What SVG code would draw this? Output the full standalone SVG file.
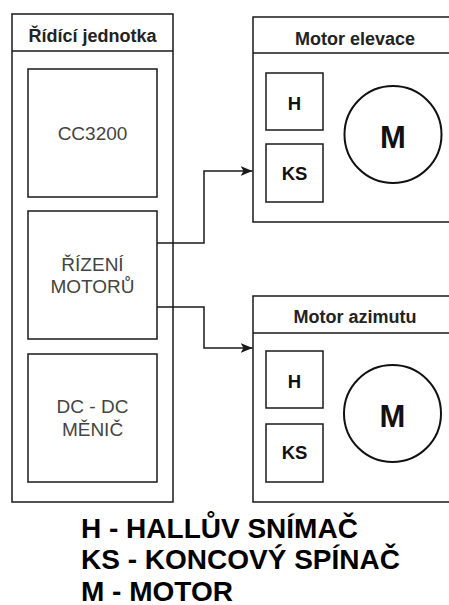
<svg xmlns="http://www.w3.org/2000/svg" width="449" height="605" viewBox="0 0 449 605">
<style>
.box{fill:#fff;stroke:#1a1a1a;stroke-width:1.5}
.circ{fill:#fff;stroke:#111;stroke-width:2}
.ln{fill:none;stroke:#1a1a1a;stroke-width:1.5}
.hdr{font-family:"Liberation Sans",Arial,sans-serif;font-weight:bold;font-size:18px;fill:#222;text-anchor:middle}
.lbl{font-family:"Liberation Sans",Arial,sans-serif;font-size:19px;fill:#444;text-anchor:middle}
.sm{font-family:"Liberation Sans",Arial,sans-serif;font-weight:bold;font-size:18.5px;fill:#111;text-anchor:middle}
.big{font-family:"Liberation Sans",Arial,sans-serif;font-weight:bold;font-size:31px;fill:#111;text-anchor:middle}
.leg{font-family:"Liberation Sans",Arial,sans-serif;font-weight:bold;font-size:28px;fill:#000}
</style>
<defs>
<marker id="arr" markerUnits="userSpaceOnUse" markerWidth="13" markerHeight="10" refX="12" refY="5" orient="auto">
<path d="M0,0 L12,5 L0,10 L3,5 Z" fill="#1a1a1a"/>
</marker>
</defs>
<rect width="449" height="605" fill="#fff"/>
<g id="ridici-jednotka">
<rect class="box" x="12" y="14" width="161" height="488"/>
<line class="ln" x1="12" y1="51" x2="173" y2="51"/>
<text class="hdr" x="92.5" y="42">Řídící jednotka</text>
</g>
<g id="cc3200">
<rect class="box" x="28" y="69" width="129" height="128"/>
<text class="lbl" x="92.5" y="140">CC3200</text>
</g>
<g id="rizeni-motoru">
<rect class="box" x="28" y="211" width="129" height="128"/>
<text class="lbl" x="92.5" y="270.5">ŘÍZENÍ</text>
<text class="lbl" x="92.5" y="293">MOTORŮ</text>
</g>
<g id="dc-dc-menic">
<rect class="box" x="28" y="354" width="129" height="128"/>
<text class="lbl" x="92.5" y="413">DC - DC</text>
<text class="lbl" x="92.5" y="436">MĚNIČ</text>
</g>
<g id="motor-elevace">
<rect class="box" x="253" y="17" width="204" height="205"/>
<line class="ln" x1="253" y1="53" x2="457" y2="53"/>
<text class="hdr" x="355" y="45">Motor elevace</text>
<rect class="box" x="266" y="73" width="57" height="57"/>
<text class="sm" x="294.5" y="110">H</text>
<rect class="box" x="266" y="144" width="57" height="58"/>
<text class="sm" x="294.5" y="180">KS</text>
<circle class="circ" cx="393" cy="134.5" r="48.5"/>
<text class="big" x="393" y="148">M</text>
</g>
<g id="motor-azimutu">
<rect class="box" x="253" y="296" width="204" height="206"/>
<line class="ln" x1="253" y1="333" x2="457" y2="333"/>
<text class="hdr" x="355" y="323">Motor azimutu</text>
<rect class="box" x="266" y="351" width="57" height="57"/>
<text class="sm" x="294.5" y="388">H</text>
<rect class="box" x="266" y="424" width="57" height="58"/>
<text class="sm" x="294.5" y="459">KS</text>
<circle class="circ" cx="392.5" cy="413.5" r="48.5"/>
<text class="big" x="392.5" y="427">M</text>
</g>
<g id="connectors">
<path class="ln" d="M157,243 H204 V171 H252.5" marker-end="url(#arr)"/>
<path class="ln" d="M157,307 H204 V348 H252.5" marker-end="url(#arr)"/>
</g>
<g id="legend">
<text class="leg" x="81" y="538">H - HALLŮV SNÍMAČ</text>
<text class="leg" x="81" y="568.5">KS - KONCOVÝ SPÍNAČ</text>
<text class="leg" x="81" y="600.5">M - MOTOR</text>
</g>
</svg>
